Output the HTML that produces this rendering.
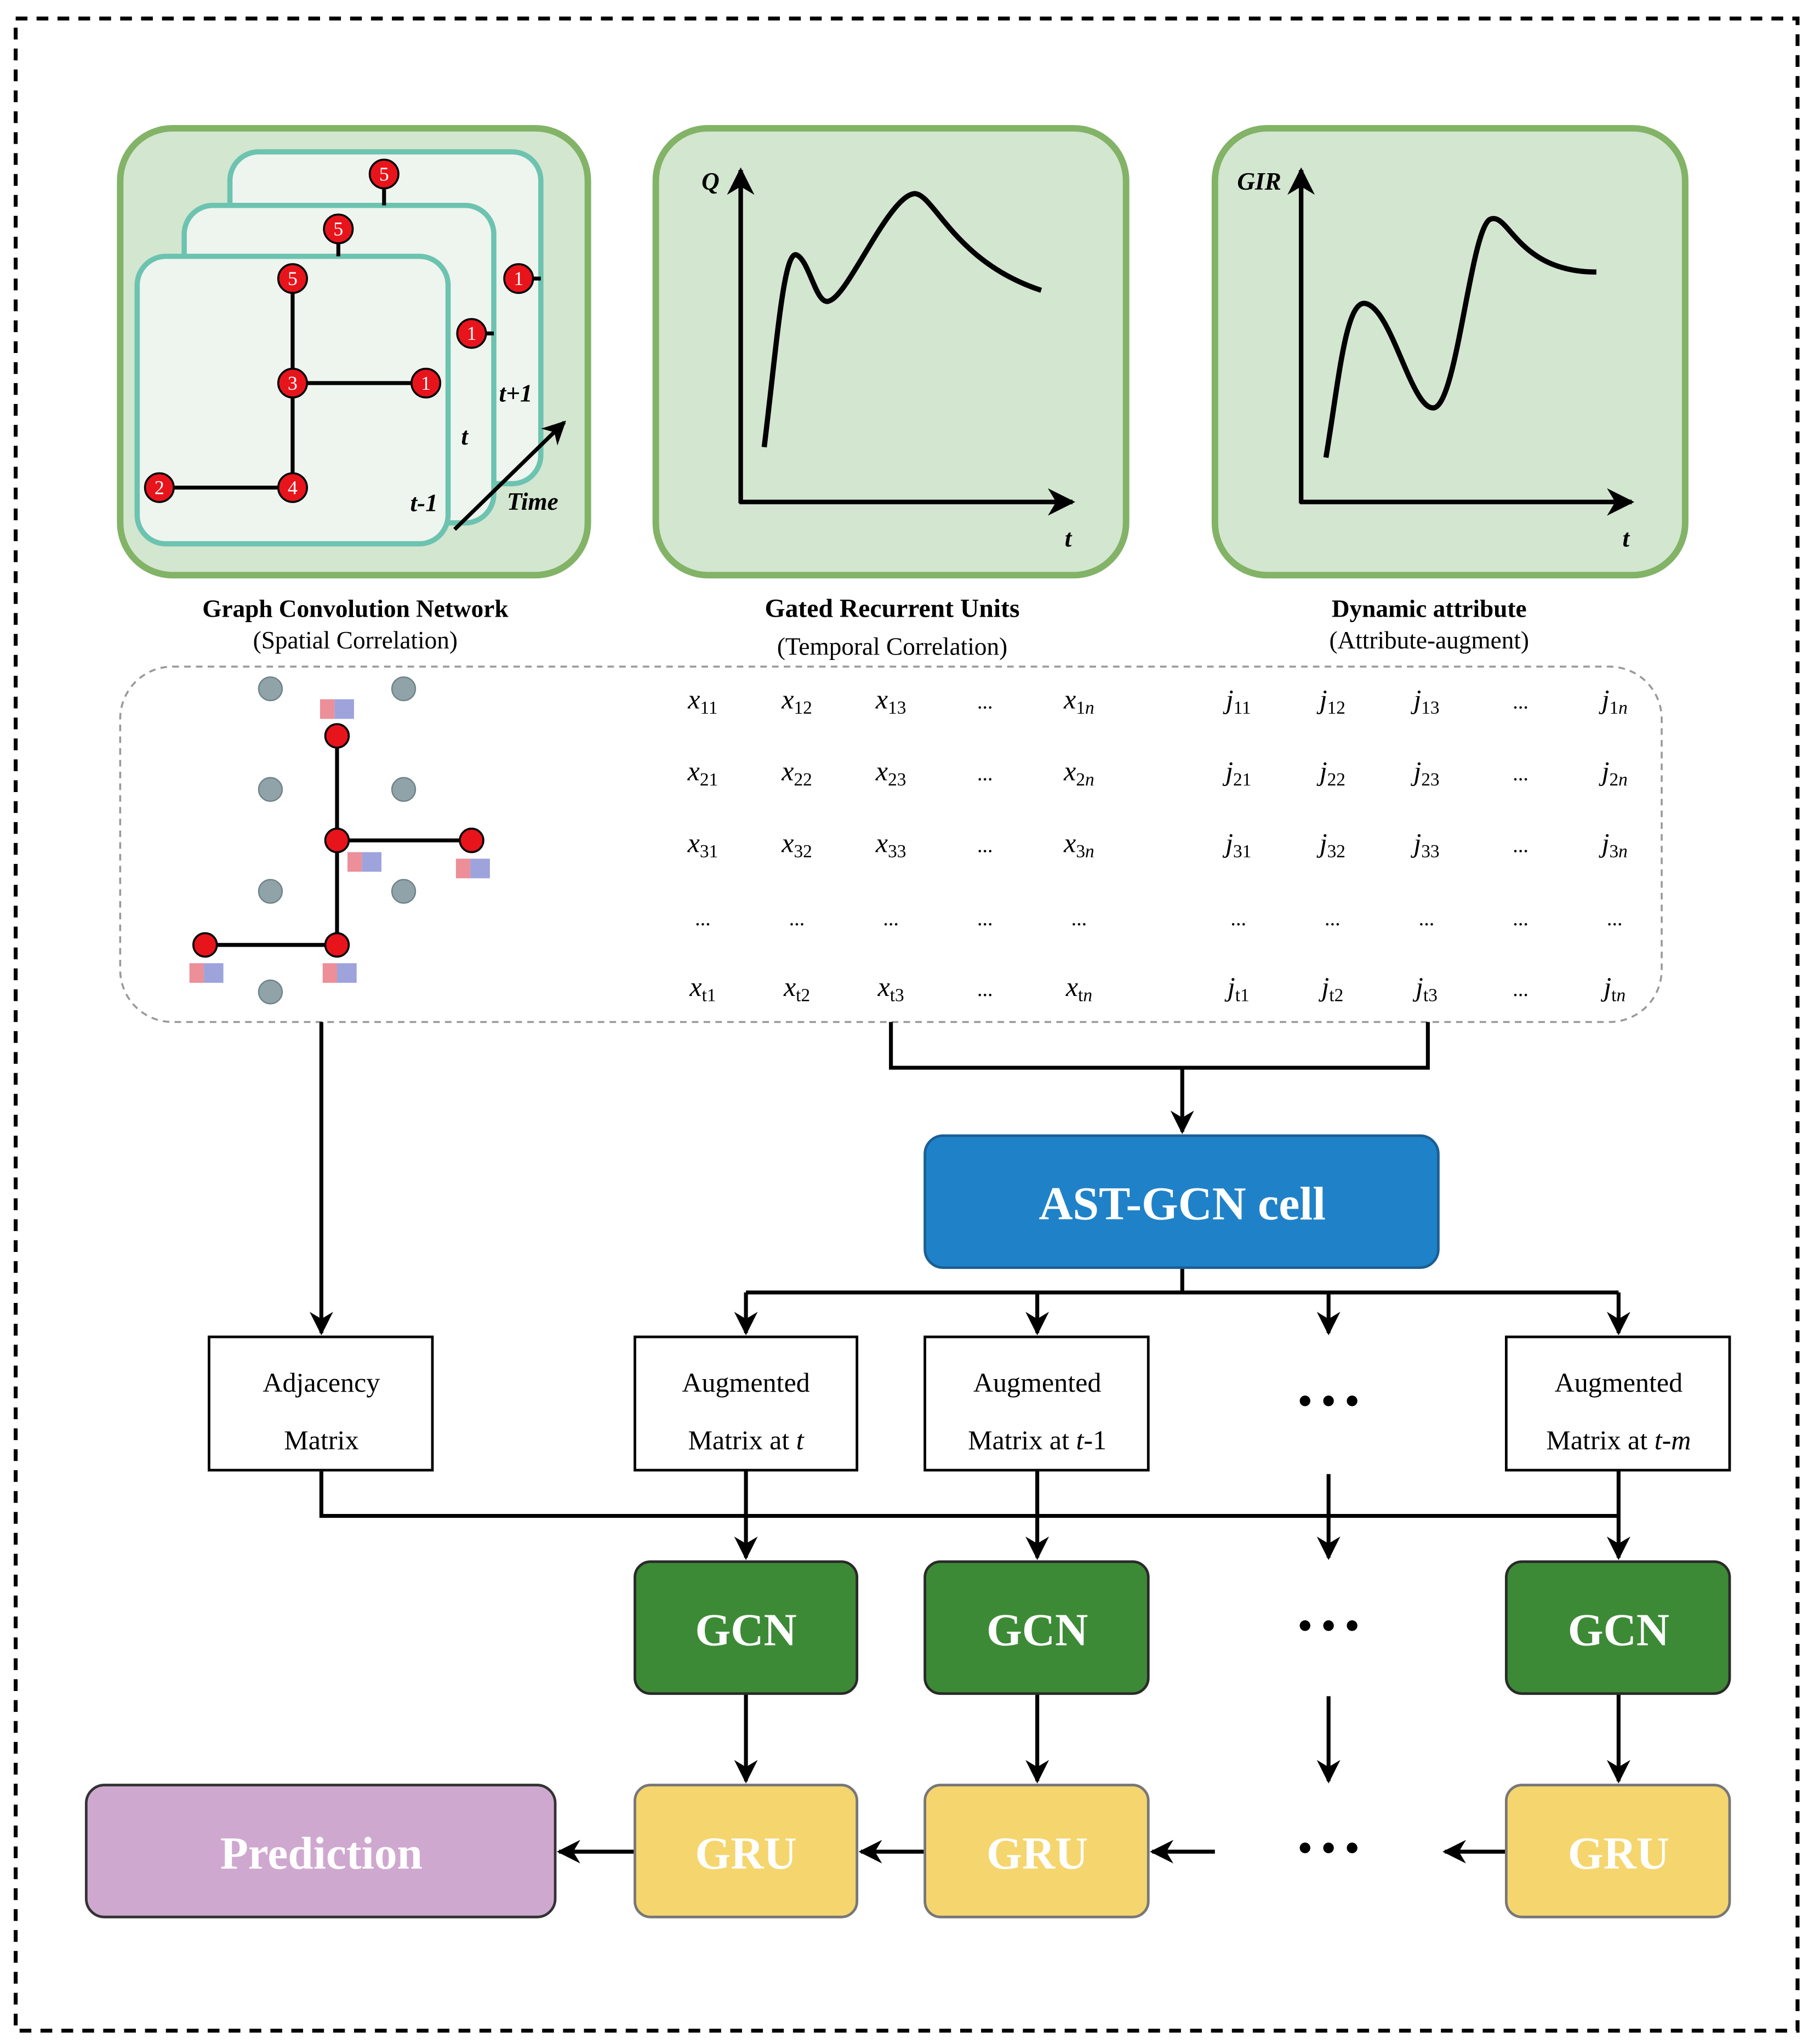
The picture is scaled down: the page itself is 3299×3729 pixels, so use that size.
<!DOCTYPE html>
<html><head><meta charset="utf-8"><style>
html,body{margin:0;padding:0;background:#fff}
svg{display:block}
text{font-family:"Liberation Serif",serif}
</style></head><body>
<svg width="3299" height="3729" viewBox="0 0 1384 1564" xmlns="http://www.w3.org/2000/svg">
<defs>
<marker id="ar" viewBox="0 0 10 10" refX="9" refY="5" markerWidth="6" markerHeight="6" orient="auto"><path d="M0,0 L10,5 L0,10 L3,5 z" fill="#000"/></marker>
</defs>
<rect width="1384" height="1564" fill="#fff"/>
<rect x="12" y="14" width="1364" height="1540" fill="none" stroke="#000" stroke-width="3" stroke-dasharray="9,7"/>

<!-- Panel 1 -->
<rect x="92" y="98" width="358" height="342" rx="40" fill="#d3e6d0" stroke="#82b366" stroke-width="5"/>
<g stroke="#6cc3b0" stroke-width="4" fill="#eef5ee">
<rect x="176" y="116" width="238" height="254" rx="22"/>
<rect x="141" y="157" width="237" height="243" rx="22"/>
<rect x="105" y="196" width="238" height="220" rx="22"/>
</g>
<g stroke="#000" stroke-width="3">
<line x1="294" y1="133" x2="294" y2="157"/><line x1="397" y1="213" x2="414" y2="213"/>
<line x1="259" y1="175" x2="259" y2="196"/><line x1="361" y1="255" x2="378" y2="255"/>
<line x1="224" y1="213" x2="224" y2="373"/><line x1="224" y1="293" x2="326" y2="293"/><line x1="224" y1="373" x2="122" y2="373"/>
</g>
<g fill="#e8141c" stroke="#000" stroke-width="1.5">
<circle cx="294" cy="133" r="11"/><circle cx="397" cy="213" r="11"/><circle cx="259" cy="175" r="11"/><circle cx="361" cy="255" r="11"/>
<circle cx="224" cy="213" r="11"/><circle cx="224" cy="293" r="11"/><circle cx="326" cy="293" r="11"/><circle cx="224" cy="373" r="11"/><circle cx="122" cy="373" r="11"/>
</g>
<g fill="#fff" font-size="15" text-anchor="middle">
<text x="294" y="138">5</text><text x="397" y="218">1</text><text x="259" y="180">5</text><text x="361" y="260">1</text>
<text x="224" y="218">5</text><text x="224" y="298">3</text><text x="326" y="298">1</text><text x="224" y="378">4</text><text x="122" y="378">2</text>
</g>
<g font-size="19" font-style="italic" font-weight="bold">
<text x="314" y="391">t-1</text><text x="353" y="340">t</text><text x="382" y="307">t+1</text><text x="388" y="390">Time</text>
</g>
<line x1="348" y1="405" x2="432" y2="323" stroke="#000" stroke-width="3" marker-end="url(#ar)"/>

<!-- Panel 2 -->
<rect x="502" y="98" width="360" height="342" rx="40" fill="#d3e6d0" stroke="#82b366" stroke-width="5"/>
<line x1="567" y1="385" x2="567" y2="130" stroke="#000" stroke-width="3.5" marker-end="url(#ar)"/>
<line x1="566" y1="384" x2="821" y2="384" stroke="#000" stroke-width="3.5" marker-end="url(#ar)"/>
<text x="537" y="145" font-size="19" font-style="italic" font-weight="bold">Q</text>
<text x="815" y="418" font-size="19" font-style="italic" font-weight="bold">t</text>
<path d="M585,342 C595,260 600,190 610,195 C620,200 625,235 635,230 C650,225 680,150 700,148 C715,148 730,200 797,222" fill="none" stroke="#000" stroke-width="4"/>

<!-- Panel 3 -->
<rect x="930" y="98" width="360" height="342" rx="40" fill="#d3e6d0" stroke="#82b366" stroke-width="5"/>
<line x1="996" y1="385" x2="996" y2="130" stroke="#000" stroke-width="3.5" marker-end="url(#ar)"/>
<line x1="995" y1="384" x2="1249" y2="384" stroke="#000" stroke-width="3.5" marker-end="url(#ar)"/>
<text x="947" y="145" font-size="19" font-style="italic" font-weight="bold">GIR</text>
<text x="1242" y="418" font-size="19" font-style="italic" font-weight="bold">t</text>
<path d="M1015,350 C1025,290 1030,230 1045,232 C1065,235 1080,312 1097,312 C1115,312 1125,180 1140,168 C1155,160 1160,208 1222,208" fill="none" stroke="#000" stroke-width="4"/>

<g font-size="19" text-anchor="middle">
<text x="272" y="472" font-weight="bold">Graph Convolution Network</text><text x="272" y="496">(Spatial Correlation)</text>
<text x="683" y="472" font-weight="bold" font-size="20">Gated Recurrent Units</text><text x="683" y="501">(Temporal Correlation)</text>
<text x="1094" y="472" font-weight="bold">Dynamic attribute</text><text x="1094" y="496">(Attribute-augment)</text>
</g>

<!-- dashed box -->
<rect x="92" y="510" width="1180" height="272" rx="40" fill="none" stroke="#999" stroke-width="1.5" stroke-dasharray="5,4"/>
<g fill="#8fa3a8" stroke="#6f8388"><circle cx="207" cy="527" r="9"/><circle cx="309" cy="527" r="9"/><circle cx="207" cy="604" r="9"/><circle cx="309" cy="604" r="9"/><circle cx="207" cy="682" r="9"/><circle cx="309" cy="682" r="9"/><circle cx="207" cy="759" r="9"/></g>
<g stroke="#000" stroke-width="3"><line x1="258" y1="563" x2="258" y2="723"/><line x1="258" y1="643" x2="361" y2="643"/><line x1="258" y1="723" x2="157" y2="723"/></g>
<g fill="#e8141c" stroke="#000" stroke-width="1.5"><circle cx="258" cy="563" r="9"/><circle cx="258" cy="643" r="9"/><circle cx="361" cy="643" r="9"/><circle cx="258" cy="723" r="9"/><circle cx="157" cy="723" r="9"/></g>
<g fill="#ec8f98"><rect x="245" y="535" width="11" height="15"/><rect x="266" y="652" width="11" height="15"/><rect x="349" y="657" width="11" height="15"/><rect x="145" y="737" width="11" height="15"/><rect x="247" y="737" width="11" height="15"/></g>
<g fill="#9ea3dc"><rect x="256" y="535" width="15" height="15"/><rect x="277" y="652" width="15" height="15"/><rect x="360" y="657" width="15" height="15"/><rect x="156" y="737" width="15" height="15"/><rect x="258" y="737" width="15" height="15"/></g>

<g font-size="21" text-anchor="middle" font-style="italic">
<text x="538" y="542">x<tspan font-size="14" dy="4" font-style="normal">11</tspan></text>
<text x="610" y="542">x<tspan font-size="14" dy="4" font-style="normal">12</tspan></text>
<text x="682" y="542">x<tspan font-size="14" dy="4" font-style="normal">13</tspan></text>
<text x="754" y="542" font-style="normal" font-size="16">...</text>
<text x="826" y="542">x<tspan font-size="14" dy="4"><tspan font-style="normal">1</tspan>n</tspan></text>
<text x="538" y="597">x<tspan font-size="14" dy="4" font-style="normal">21</tspan></text>
<text x="610" y="597">x<tspan font-size="14" dy="4" font-style="normal">22</tspan></text>
<text x="682" y="597">x<tspan font-size="14" dy="4" font-style="normal">23</tspan></text>
<text x="754" y="597" font-style="normal" font-size="16">...</text>
<text x="826" y="597">x<tspan font-size="14" dy="4"><tspan font-style="normal">2</tspan>n</tspan></text>
<text x="538" y="652">x<tspan font-size="14" dy="4" font-style="normal">31</tspan></text>
<text x="610" y="652">x<tspan font-size="14" dy="4" font-style="normal">32</tspan></text>
<text x="682" y="652">x<tspan font-size="14" dy="4" font-style="normal">33</tspan></text>
<text x="754" y="652" font-style="normal" font-size="16">...</text>
<text x="826" y="652">x<tspan font-size="14" dy="4"><tspan font-style="normal">3</tspan>n</tspan></text>
<g font-style="normal" font-size="16"><text x="538" y="708">...</text><text x="610" y="708">...</text><text x="682" y="708">...</text><text x="754" y="708">...</text><text x="826" y="708">...</text>
<text x="948" y="708">...</text><text x="1020" y="708">...</text><text x="1092" y="708">...</text><text x="1164" y="708">...</text><text x="1236" y="708">...</text></g>
<text x="538" y="762">x<tspan font-size="14" dy="4" font-style="normal">t1</tspan></text>
<text x="610" y="762">x<tspan font-size="14" dy="4" font-style="normal">t2</tspan></text>
<text x="682" y="762">x<tspan font-size="14" dy="4" font-style="normal">t3</tspan></text>
<text x="754" y="762" font-style="normal" font-size="16">...</text>
<text x="826" y="762">x<tspan font-size="14" dy="4"><tspan font-style="normal">t</tspan>n</tspan></text>

<text x="948" y="542">j<tspan font-size="14" dy="4" font-style="normal">11</tspan></text>
<text x="1020" y="542">j<tspan font-size="14" dy="4" font-style="normal">12</tspan></text>
<text x="1092" y="542">j<tspan font-size="14" dy="4" font-style="normal">13</tspan></text>
<text x="1164" y="542" font-style="normal" font-size="16">...</text>
<text x="1236" y="542">j<tspan font-size="14" dy="4"><tspan font-style="normal">1</tspan>n</tspan></text>
<text x="948" y="597">j<tspan font-size="14" dy="4" font-style="normal">21</tspan></text>
<text x="1020" y="597">j<tspan font-size="14" dy="4" font-style="normal">22</tspan></text>
<text x="1092" y="597">j<tspan font-size="14" dy="4" font-style="normal">23</tspan></text>
<text x="1164" y="597" font-style="normal" font-size="16">...</text>
<text x="1236" y="597">j<tspan font-size="14" dy="4"><tspan font-style="normal">2</tspan>n</tspan></text>
<text x="948" y="652">j<tspan font-size="14" dy="4" font-style="normal">31</tspan></text>
<text x="1020" y="652">j<tspan font-size="14" dy="4" font-style="normal">32</tspan></text>
<text x="1092" y="652">j<tspan font-size="14" dy="4" font-style="normal">33</tspan></text>
<text x="1164" y="652" font-style="normal" font-size="16">...</text>
<text x="1236" y="652">j<tspan font-size="14" dy="4"><tspan font-style="normal">3</tspan>n</tspan></text>
<text x="948" y="762">j<tspan font-size="14" dy="4" font-style="normal">t1</tspan></text>
<text x="1020" y="762">j<tspan font-size="14" dy="4" font-style="normal">t2</tspan></text>
<text x="1092" y="762">j<tspan font-size="14" dy="4" font-style="normal">t3</tspan></text>
<text x="1164" y="762" font-style="normal" font-size="16">...</text>
<text x="1236" y="762">j<tspan font-size="14" dy="4"><tspan font-style="normal">t</tspan>n</tspan></text>
</g>

<!-- connectors -->
<g stroke="#000" stroke-width="3" fill="none">
<line x1="246" y1="782" x2="246" y2="1020" marker-end="url(#ar)"/>
<polyline points="682,782 682,817 1093,817 1093,782"/>
<line x1="905" y1="817" x2="905" y2="866" marker-end="url(#ar)"/>
<line x1="905" y1="970" x2="905" y2="989"/>
<line x1="571" y1="989" x2="1239" y2="989"/>
<line x1="571" y1="989" x2="571" y2="1020" marker-end="url(#ar)"/>
<line x1="794" y1="989" x2="794" y2="1020" marker-end="url(#ar)"/>
<line x1="1017" y1="989" x2="1017" y2="1020" marker-end="url(#ar)"/>
<line x1="1239" y1="989" x2="1239" y2="1020" marker-end="url(#ar)"/>
<polyline points="246,1125 246,1160 1239,1160"/>
<line x1="571" y1="1125" x2="571" y2="1192" marker-end="url(#ar)"/>
<line x1="794" y1="1125" x2="794" y2="1192" marker-end="url(#ar)"/>
<line x1="1017" y1="1128" x2="1017" y2="1192" marker-end="url(#ar)"/>
<line x1="1239" y1="1125" x2="1239" y2="1192" marker-end="url(#ar)"/>
<line x1="571" y1="1296" x2="571" y2="1363" marker-end="url(#ar)"/>
<line x1="794" y1="1296" x2="794" y2="1363" marker-end="url(#ar)"/>
<line x1="1017" y1="1298" x2="1017" y2="1363" marker-end="url(#ar)"/>
<line x1="1239" y1="1296" x2="1239" y2="1363" marker-end="url(#ar)"/>
<line x1="486" y1="1417" x2="428" y2="1417" marker-end="url(#ar)"/>
<line x1="708" y1="1417" x2="659" y2="1417" marker-end="url(#ar)"/>
<line x1="930" y1="1417" x2="882" y2="1417" marker-end="url(#ar)"/>
<line x1="1153" y1="1417" x2="1106" y2="1417" marker-end="url(#ar)"/>
</g>

<rect x="708" y="869" width="393" height="101" rx="14" fill="#1f82c8" stroke="#1a5f94" stroke-width="2"/>
<text x="905" y="933" font-size="36" font-weight="bold" fill="#fff" text-anchor="middle">AST-GCN cell</text>

<g fill="#fff" stroke="#000" stroke-width="2">
<rect x="160" y="1023" width="171" height="102"/><rect x="486" y="1023" width="170" height="102"/><rect x="708" y="1023" width="171" height="102"/><rect x="1153" y="1023" width="171" height="102"/>
</g>
<g font-size="21" text-anchor="middle">
<text x="246" y="1065">Adjacency</text><text x="246" y="1109">Matrix</text>
<text x="571" y="1065">Augmented</text><text x="571" y="1109">Matrix at <tspan font-style="italic">t</tspan></text>
<text x="794" y="1065">Augmented</text><text x="794" y="1109">Matrix at <tspan font-style="italic">t</tspan>-1</text>
<text x="1239" y="1065">Augmented</text><text x="1239" y="1109">Matrix at <tspan font-style="italic">t-m</tspan></text>
</g>
<g font-size="30" font-weight="bold" text-anchor="middle"><text x="1017" y="1082">• • •</text><text x="1017" y="1254">• • •</text><text x="1017" y="1424">• • •</text></g>

<g fill="#3d8a36" stroke="#2a2a2a" stroke-width="2">
<rect x="486" y="1195" width="170" height="101" rx="12"/><rect x="708" y="1195" width="171" height="101" rx="12"/><rect x="1153" y="1195" width="171" height="101" rx="12"/>
</g>
<g fill="#fff" font-size="35" font-weight="bold" text-anchor="middle">
<text x="571" y="1259">GCN</text><text x="794" y="1259">GCN</text><text x="1239" y="1259">GCN</text>
</g>
<g fill="#f5d56e" stroke="#777" stroke-width="2">
<rect x="486" y="1366" width="170" height="101" rx="12"/><rect x="708" y="1366" width="171" height="101" rx="12"/><rect x="1153" y="1366" width="171" height="101" rx="12"/>
</g>
<rect x="66" y="1366" width="359" height="101" rx="14" fill="#cfa8d0" stroke="#333" stroke-width="2"/>
<g fill="#fff" font-size="35" font-weight="bold" text-anchor="middle">
<text x="571" y="1430">GRU</text><text x="794" y="1430">GRU</text><text x="1239" y="1430">GRU</text><text x="246" y="1430">Prediction</text>
</g>
</svg>
</body></html>
